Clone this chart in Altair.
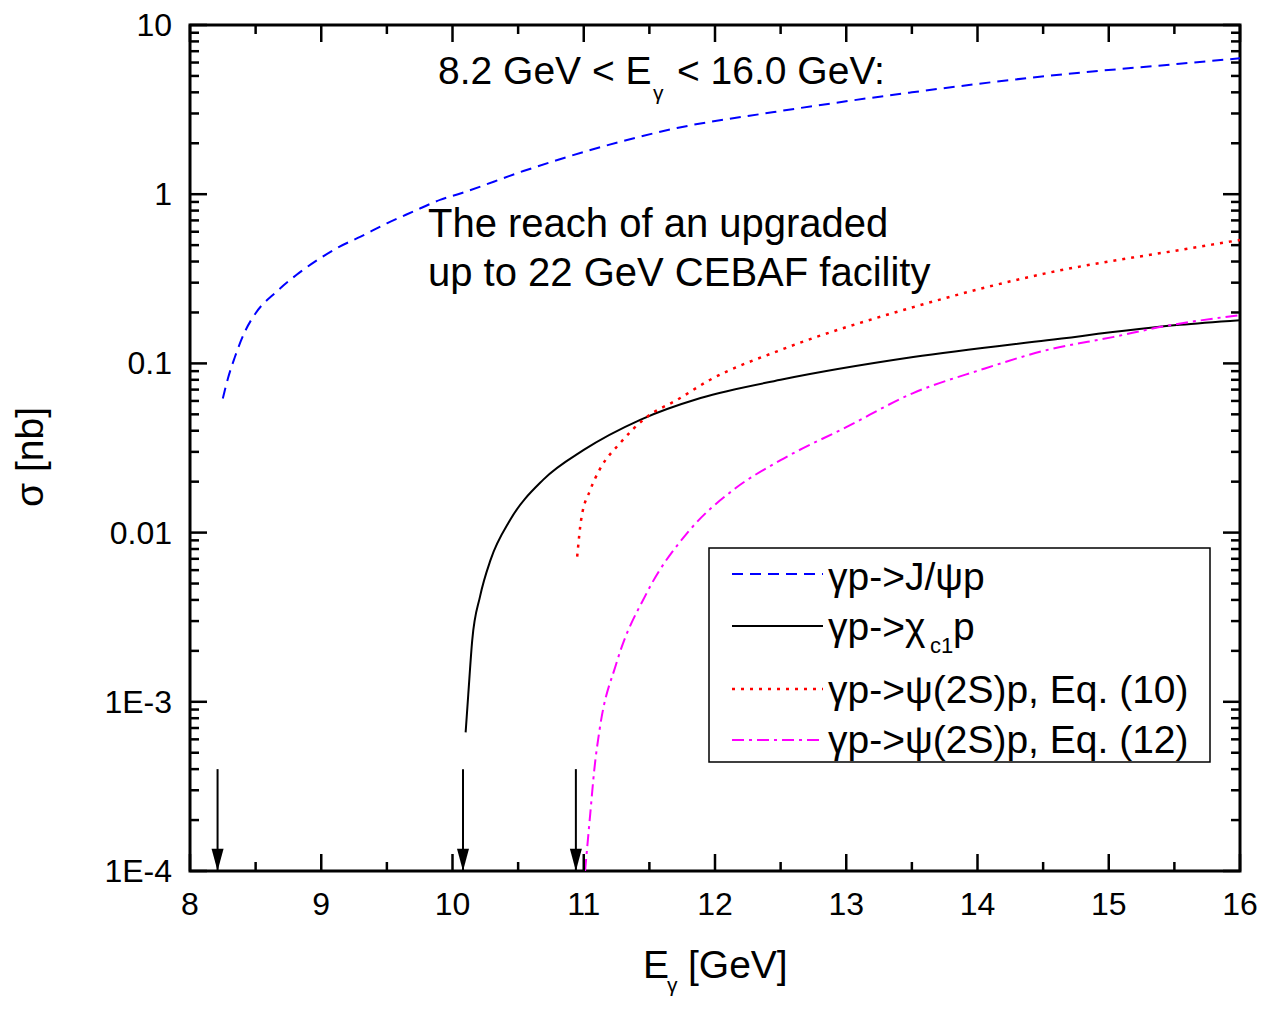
import altair as alt
import pandas as pd

# ---------------- data ----------------
E_JPSI = [8.25, 8.29, 8.34, 8.42, 8.50, 8.66, 8.81, 8.97, 9.14, 9.30, 9.50, 9.70, 9.91, 10.06,
          10.54, 11.13, 11.71, 12.45, 13.50, 14.53, 15.54, 16.00]
SIG_JPSI = [0.062, 0.082, 0.108, 0.155, 0.198, 0.266, 0.333, 0.408, 0.490, 0.561, 0.673, 0.789, 0.929, 1.01,
            1.37, 1.90, 2.46, 3.06, 4.00, 5.00, 5.90, 6.35]

E_CHI = [10.10, 10.12, 10.15, 10.21, 10.29, 10.44, 10.69, 11.00, 11.43, 11.89, 12.50, 13.51, 14.53, 15.54, 16.00]
SIG_CHI = [6.6e-4, 1.1e-3, 2.3e-3, 4.2e-3, 6.9e-3, 0.0119, 0.0205, 0.0308, 0.0464, 0.0624, 0.080, 0.109, 0.137, 0.169, 0.180]

E_PSI10 = [10.95, 10.98, 11.05, 11.12, 11.28, 11.48, 11.71, 11.96, 12.50, 13.51, 14.53, 15.54, 16.00]
SIG_PSI10 = [0.0072, 0.0119, 0.0179, 0.0235, 0.034, 0.0482, 0.0608, 0.0798, 0.120, 0.215, 0.342, 0.468, 0.536]

E_PSI12 = [11.01, 11.05, 11.08, 11.12, 11.25, 11.48, 11.81, 12.14, 12.50, 13.00, 13.51, 14.02, 14.53, 15.03, 15.41, 16.00]
SIG_PSI12 = [1.0e-4, 2.2e-4, 3.95e-4, 6.8e-4, 1.7e-3, 4.4e-3, 0.0104, 0.0179, 0.0268, 0.042, 0.0668, 0.0914, 0.120, 0.143, 0.165, 0.193]

ARROW_E = [8.21, 10.08, 10.94]      # thresholds marked by arrows
ARROW_TOP = 4.0e-4
ARROW_TIP = 1.0e-4

X_MAJOR = [8, 9, 10, 11, 12, 13, 14, 15, 16]
X_LABELS = ["8", "9", "10", "11", "12", "13", "14", "15", "16"]
X_MINOR = [8.5, 9.5, 10.5, 11.5, 12.5, 13.5, 14.5, 15.5]
Y_MAJOR = [1e-4, 1e-3, 1e-2, 1e-1, 1, 10]
Y_LABELS = ["1E-4", "1E-3", "0.01", "0.1", "1", "10"]
Y_MINOR = [m * 10.0 ** k for k in range(-4, 1) for m in range(2, 10)]

LEGEND_LABELS = ["γp->J/ψp", "γp->χ", "γp->ψ(2S)p, Eq. (10)", "γp->ψ(2S)p, Eq. (12)"]

# ---------------- styling ----------------
FONT = "Liberation Sans"
W, H = 1050, 846
BLUE, RED, MAG = "#0000FF", "#FF0000", "#FF00FF"
DASH_BLUE = [11, 7]
DASH_RED = [3, 6]
DASH_MAG = [12, 5, 3, 5]

xs = alt.Scale(domain=[8, 16], nice=False, zero=False)
ys = alt.Scale(type="log", domain=[1e-4, 10], nice=False)


def X(field):
    return alt.X(f"{field}:Q", scale=xs, axis=None)


def Y(field):
    return alt.Y(f"{field}:Q", scale=ys, axis=None)


def curve(E, S, color, dash=None, width=2):
    df = pd.DataFrame({"E": E, "sigma": S})
    kw = dict(color=color, strokeWidth=width, interpolate="monotone", clip=True)
    if dash:
        kw["strokeDash"] = dash
    return alt.Chart(df).mark_line(**kw).encode(x=X("E"), y=Y("sigma"))


def xticks(vals, length):
    df = pd.DataFrame({"E": vals})
    base = alt.Chart(df).mark_rule(color="black", strokeWidth=2.5)
    return [
        base.encode(x=X("E"), y=alt.value(H), y2=alt.value(H - length)),
        base.encode(x=X("E"), y=alt.value(0), y2=alt.value(length)),
    ]


def yticks(vals, length):
    df = pd.DataFrame({"sigma": vals})
    base = alt.Chart(df).mark_rule(color="black", strokeWidth=2.5)
    return [
        base.encode(y=Y("sigma"), x=alt.value(0), x2=alt.value(length)),
        base.encode(y=Y("sigma"), x=alt.value(W), x2=alt.value(W - length)),
    ]


def text(t, x, y, size, **kw):
    return alt.Chart(pd.DataFrame({"d": [0]})).mark_text(
        text=t, font=FONT, fontSize=size, color="black", align=kw.pop("align", "left"),
        baseline=kw.pop("baseline", "alphabetic"), **kw
    ).encode(x=alt.value(x), y=alt.value(y))


def legend_line(y, color, dash=None, width=2):
    kw = dict(color=color, strokeWidth=width)
    if dash:
        kw["strokeDash"] = dash
    return alt.Chart(pd.DataFrame({"d": [0]})).mark_rule(**kw).encode(
        x=alt.value(542), x2=alt.value(633), y=alt.value(y))


layers = []
layers.append(curve(E_JPSI, SIG_JPSI, BLUE, DASH_BLUE))
layers.append(curve(E_CHI, SIG_CHI, "black"))
layers.append(curve(E_PSI10, SIG_PSI10, RED, DASH_RED, width=2.5))
layers.append(curve(E_PSI12, SIG_PSI12, MAG, DASH_MAG))

# inward ticks on all four sides
layers += xticks(X_MAJOR, 17) + xticks(X_MINOR, 9)
layers += yticks(Y_MAJOR, 17) + yticks(Y_MINOR, 9)

# tick labels
layers.append(alt.Chart(pd.DataFrame({"E": X_MAJOR, "lab": X_LABELS})).mark_text(
    font=FONT, fontSize=32, color="black", align="center", baseline="top", clip=False).encode(
    x=X("E"), y=alt.value(H + 19), text="lab:N"))
layers.append(alt.Chart(pd.DataFrame({"sigma": Y_MAJOR, "lab": Y_LABELS})).mark_text(
    font=FONT, fontSize=32, color="black", align="right", baseline="middle", dy=1, clip=False).encode(
    y=Y("sigma"), x=alt.value(-18), text="lab:N"))

# arrows
arrow_df = pd.DataFrame({"E": ARROW_E, "top": [ARROW_TOP] * len(ARROW_E), "tip": [ARROW_TIP] * len(ARROW_E)})
layers.append(alt.Chart(arrow_df).mark_rule(color="black", strokeWidth=2).encode(
    x=X("E"), y=Y("top"), y2="tip:Q"))
layers.append(alt.Chart(arrow_df).mark_point(
    shape="M-1,-3.7L1,-3.7L0,0Z", size=144, filled=True, color="black", opacity=1, strokeWidth=0).encode(
    x=X("E"), y=Y("tip")))

# annotations
layers.append(text("8.2 GeV < E", 248, 59, 39))
layers.append(text("γ", 463, 75, 21))
layers.append(text("< 16.0 GeV:", 487, 59, 39))
layers.append(text("The reach of an upgraded", 238, 212, 40))
layers.append(text("up to 22 GeV CEBAF facility", 238, 261, 40))

# legend
layers.append(alt.Chart(pd.DataFrame({"d": [0]})).mark_rect(
    fill="white", stroke="black", strokeWidth=1.5).encode(
    x=alt.value(519), x2=alt.value(1020), y=alt.value(523), y2=alt.value(737)))
layers.append(legend_line(549, BLUE, DASH_BLUE))
layers.append(legend_line(601, "black"))
layers.append(legend_line(664, RED, DASH_RED, width=2.5))
layers.append(legend_line(715, MAG, DASH_MAG))
layers.append(text(LEGEND_LABELS[0], 638, 565, 39))
layers.append(text(LEGEND_LABELS[1], 638, 615, 39))
layers.append(text("c1", 740, 628, 22))
layers.append(text("p", 763, 615, 39))
layers.append(text(LEGEND_LABELS[2], 638, 678, 39))
layers.append(text(LEGEND_LABELS[3], 638, 728, 39))

# axis titles
layers.append(text("E", 453, 953, 39))
layers.append(text("γ", 477, 967, 21))
layers.append(text("[GeV]", 498, 953, 39))
layers.append(text("σ [nb]", -159, 432, 39, align="center", baseline="middle", angle=270))

chart = alt.layer(*layers).properties(
    width=W, height=H,
    autosize=alt.AutoSizeParams(type="none"),
    padding={"left": 182, "top": 17, "right": 18, "bottom": 126},
    background="white",
).configure_view(stroke="black", strokeWidth=3)

chart.save("out.html", embed_options={"renderer": "svg", "actions": False})
